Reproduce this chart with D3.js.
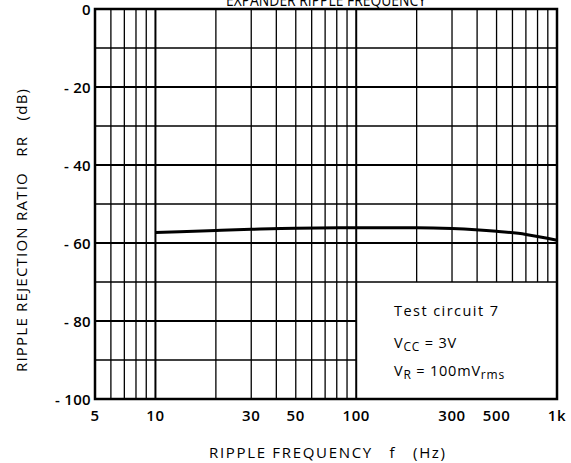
<!DOCTYPE html>
<html><head><meta charset="utf-8">
<script src="https://cdn.jsdelivr.net/npm/d3@7"></script>
<style>body{margin:0;background:#fff}svg{display:block}text{font-family:"Open Sans","DejaVu Sans",sans-serif;fill:#000}</style>
</head><body>
<svg id="c" width="571" height="463"></svg>
<script>
const freqs = [10, 20, 30, 50, 100, 200, 300, 500, 700, 1000];
const rr = [-57.3, -56.8, -56.5, -56.2, -56.1, -56.1, -56.3, -57.0, -57.8, -59.3];
const xTicks = [5, 10, 30, 50, 100, 300, 500, 1000];
const xTickLabels = ["5", "10", "30", "50", "100", "300", "500", "1k"];
const yTicks = [0, -20, -40, -60, -80, -100];
const yTickLabels = ["0", "- 20", "- 40", "- 60", "- 80", "- 100"];

const svg = d3.select("#c");
const L = 95, R = 557, T = 9, B = 399;
const x = d3.scaleLog().domain([5, 1000]).range([L, R]);
const y = d3.scaleLinear().domain([-100, 0]).range([B, T]);

// grid
const xGrid = [];
[1,10,100].forEach(d => { for (let k = 1; k <= 9; k++) { const v = k*d; if (v >= 5 && v <= 1000) xGrid.push(v); } });
const box = {x0: 100, x1: 1000, y0: -100, y1: -70};
const g = svg.append("g");
xGrid.forEach(v => {
  const major = [10, 100, 1000].includes(v);
  const inBox = v > box.x0;
  g.append("line").attr("x1", x(v)).attr("x2", x(v))
    .attr("y1", T).attr("y2", inBox ? y(box.y1) : B)
    .attr("stroke", "#000").attr("stroke-width", major ? 2 : 1.3);
});
for (let v = -90; v <= -10; v += 10) {
  const inBox = v < box.y1;
  g.append("line").attr("x1", L).attr("x2", inBox ? x(box.x0) : R)
    .attr("y1", y(v)).attr("y2", y(v))
    .attr("stroke", "#000").attr("stroke-width", v % 20 === 0 ? 2 : 1.4);
}
// frame
svg.append("rect").attr("x", L).attr("y", T).attr("width", R - L).attr("height", B - T)
  .attr("fill", "none").attr("stroke", "#000").attr("stroke-width", 2.5);

// curve
svg.append("path").datum(freqs.map((f, i) => [f, rr[i]]))
  .attr("d", d3.line().x(d => x(d[0])).y(d => y(d[1])).curve(d3.curveMonotoneX))
  .attr("fill", "none").attr("stroke", "#000").attr("stroke-width", 3);

// tick labels
xTicks.forEach((v, i) => {
  svg.append("text").attr("x", x(v)).attr("y", 421).attr("text-anchor", "middle")
    .attr("font-size", 15).attr("font-weight", 600).attr("letter-spacing", 0.6).text(xTickLabels[i]);
});
yTicks.forEach((v, i) => {
  svg.append("text").attr("x", 91).attr("y", y(v) + 5.5).attr("text-anchor", "end")
    .attr("font-size", 15).attr("font-weight", 600).attr("letter-spacing", 0.3).text(yTickLabels[i]);
});

// axis titles
svg.append("text").attr("x", 209).attr("y", 458)
  .attr("font-size", 15).attr("xml:space", "preserve")
  .attr("textLength", 236).attr("lengthAdjust", "spacing")
  .text("RIPPLE FREQUENCY   f   (Hz)");
svg.append("text").attr("transform", "translate(27,372) rotate(-90)")
  .attr("font-size", 15).attr("xml:space", "preserve")
  .attr("textLength", 283).attr("lengthAdjust", "spacing")
  .text("RIPPLE REJECTION RATIO   RR   (dB)");
svg.append("text").attr("x", 226).attr("y", 6)
  .attr("font-size", 17).attr("textLength", 200).attr("lengthAdjust", "spacingAndGlyphs")
  .text("EXPANDER RIPPLE FREQUENCY");

// annotation
const ax = 394;
svg.append("text").attr("x", ax).attr("y", 316).attr("font-size", 14.5)
  .attr("textLength", 104).attr("lengthAdjust", "spacing").text("Test circuit 7");
const t2 = svg.append("text").attr("x", ax).attr("y", 348).attr("font-size", 14.5).attr("letter-spacing", 0.8);
t2.append("tspan").text("V");
t2.append("tspan").attr("dy", 3).attr("font-size", 12).text("CC");
t2.append("tspan").attr("dy", -3).text(" = 3V");
const t3 = svg.append("text").attr("x", ax).attr("y", 376).attr("font-size", 14.5).attr("letter-spacing", 0.8);
t3.append("tspan").text("V");
t3.append("tspan").attr("dy", 3).attr("font-size", 12).text("R");
t3.append("tspan").attr("dy", -3).text(" = 100mV");
t3.append("tspan").attr("dy", 3).attr("font-size", 12).text("rms");
</script>
</body></html>
